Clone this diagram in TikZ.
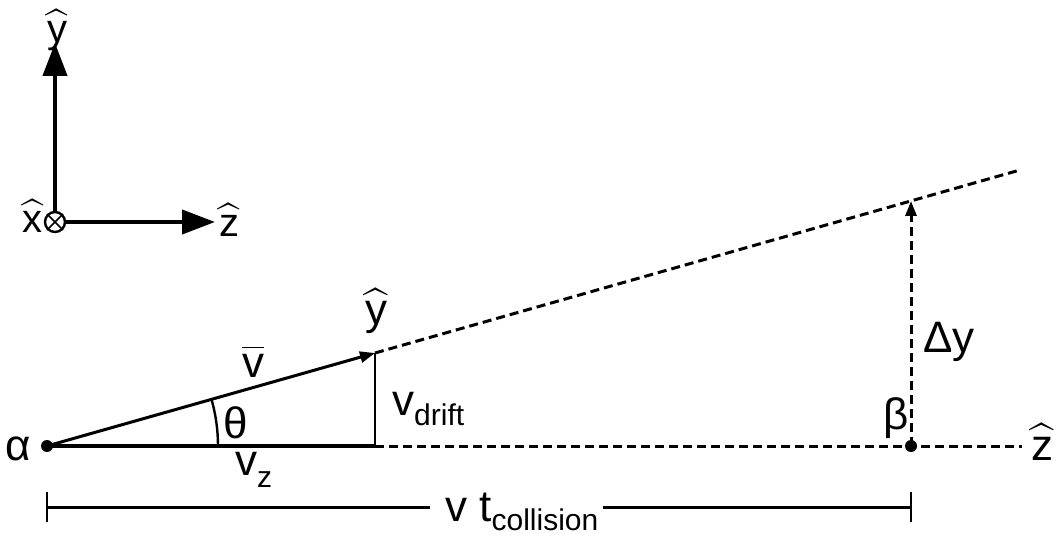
\documentclass[tikz,border=0pt]{standalone}
\usepackage{amsmath}
\usepackage{fontspec}
\setmainfont{Liberation Sans}
\DeclareFontShape{OMX}{cmex}{m}{n}{<-> cmex10}{}
\usetikzlibrary{arrows.meta,calc}
\newcommand\uv[1]{$\widehat{\mbox{#1}}$}
\newcommand\lowsub[2]{\raisebox{-#1}{\fontsize{30}{30}\selectfont #2}}
\begin{document}
\begin{tikzpicture}[x=1pt,y=-1pt,
  lbl/.style={inner sep=0pt, font=\fontsize{44}{50}\selectfont},
  axlbl/.style={inner sep=0pt, font=\fontsize{40}{46}\selectfont},
  axis/.style={line width=4.2pt, -{Triangle[length=33pt,width=24pt]}},
  vec/.style={line width=3pt},
  dashline/.style={line width=3pt, dash pattern=on 9pt off 5pt},
  dot/.style={circle, fill, inner sep=0pt, minimum size=12pt},
  smallarrow/.style={-{Triangle[length=15pt,width=11pt]}}
]
\useasboundingbox (0,0) rectangle (1058,537);

% coordinate axes
\node[draw, circle, line width=2.4pt, minimum size=20pt, inner sep=0pt] (o) at (55,222) {};
\draw[line width=1.6pt] (o.north west) -- (o.south east) (o.north east) -- (o.south west);
\coordinate (ytip) at (55,43);
\coordinate (ztip) at (215,222);
\draw[axis] (o.north) -- (ytip);
\draw[axis] (o.east) -- (ztip);
\node[axlbl] (yl) at (57,30) {\uv{y}};
\node[axlbl] (zl) at (229,220) {\uv{z}};
\node[axlbl] (xl) at (33,216) {\uv{x}};

% main diagram
\node[dot] (a) at (47,446) {};
\node[lbl] (al) at (18,449) {α};
\coordinate (tip) at (375,353);
\coordinate (foot) at (375,446);
\coordinate (zend) at (1022,446);
\coordinate (lend) at (1020,170);
\node[dot] (b) at (911,446) {};
\coordinate (btop) at (911,201);

\draw[dashline] (foot) -- (zend);
\draw[dashline] (tip) -- (lend);
\draw[dashline, smallarrow] (b.center) -- (btop);
\draw[vec, smallarrow] (a.center) -- (tip);
\draw[line width=3.4pt] (a.center) -- (foot);
\draw[line width=2.6pt] (foot) -- (tip);
\draw[line width=2.4pt] ([xshift=171pt]a.center) arc[start angle=0, end angle=-15.84, radius=171];

\node[lbl] (yh) at (376,311) {\uv{y}};
\node[lbl] (vbar) at (253,361) {$\overline{\mbox{v}}$};
\node[lbl] (th) at (236,423) {θ};
\node[lbl, anchor=base west] (vz) at (235,475) {v\lowsub{12pt}{z}};
\node[lbl, anchor=base west] (vd) at (392,415) {v\lowsub{10pt}{drift}};
\node[lbl] (bl) at (896,418) {β};
\node[lbl, anchor=base west] (dy) at (923,353) {Δy};
\node[lbl] (zr) at (1042,442) {\uv{z}};

% distance bar
\coordinate (barl) at (47,507);
\coordinate (barr) at (911,507);
\node[lbl, anchor=base west] (vt) at (445,521) {v t\lowsub{9pt}{collision}};
\draw[line width=3pt] (barl) -- ($(barl -| vt.west)+(-15,0)$);
\draw[line width=3pt] ($(barr -| vt.east)+(4,0)$) -- (barr);
\draw[line width=2.4pt] ([yshift=15pt]barl) -- ([yshift=-15pt]barl);
\draw[line width=2.4pt] ([yshift=15pt]barr) -- ([yshift=-15pt]barr);
\end{tikzpicture}
\end{document}
